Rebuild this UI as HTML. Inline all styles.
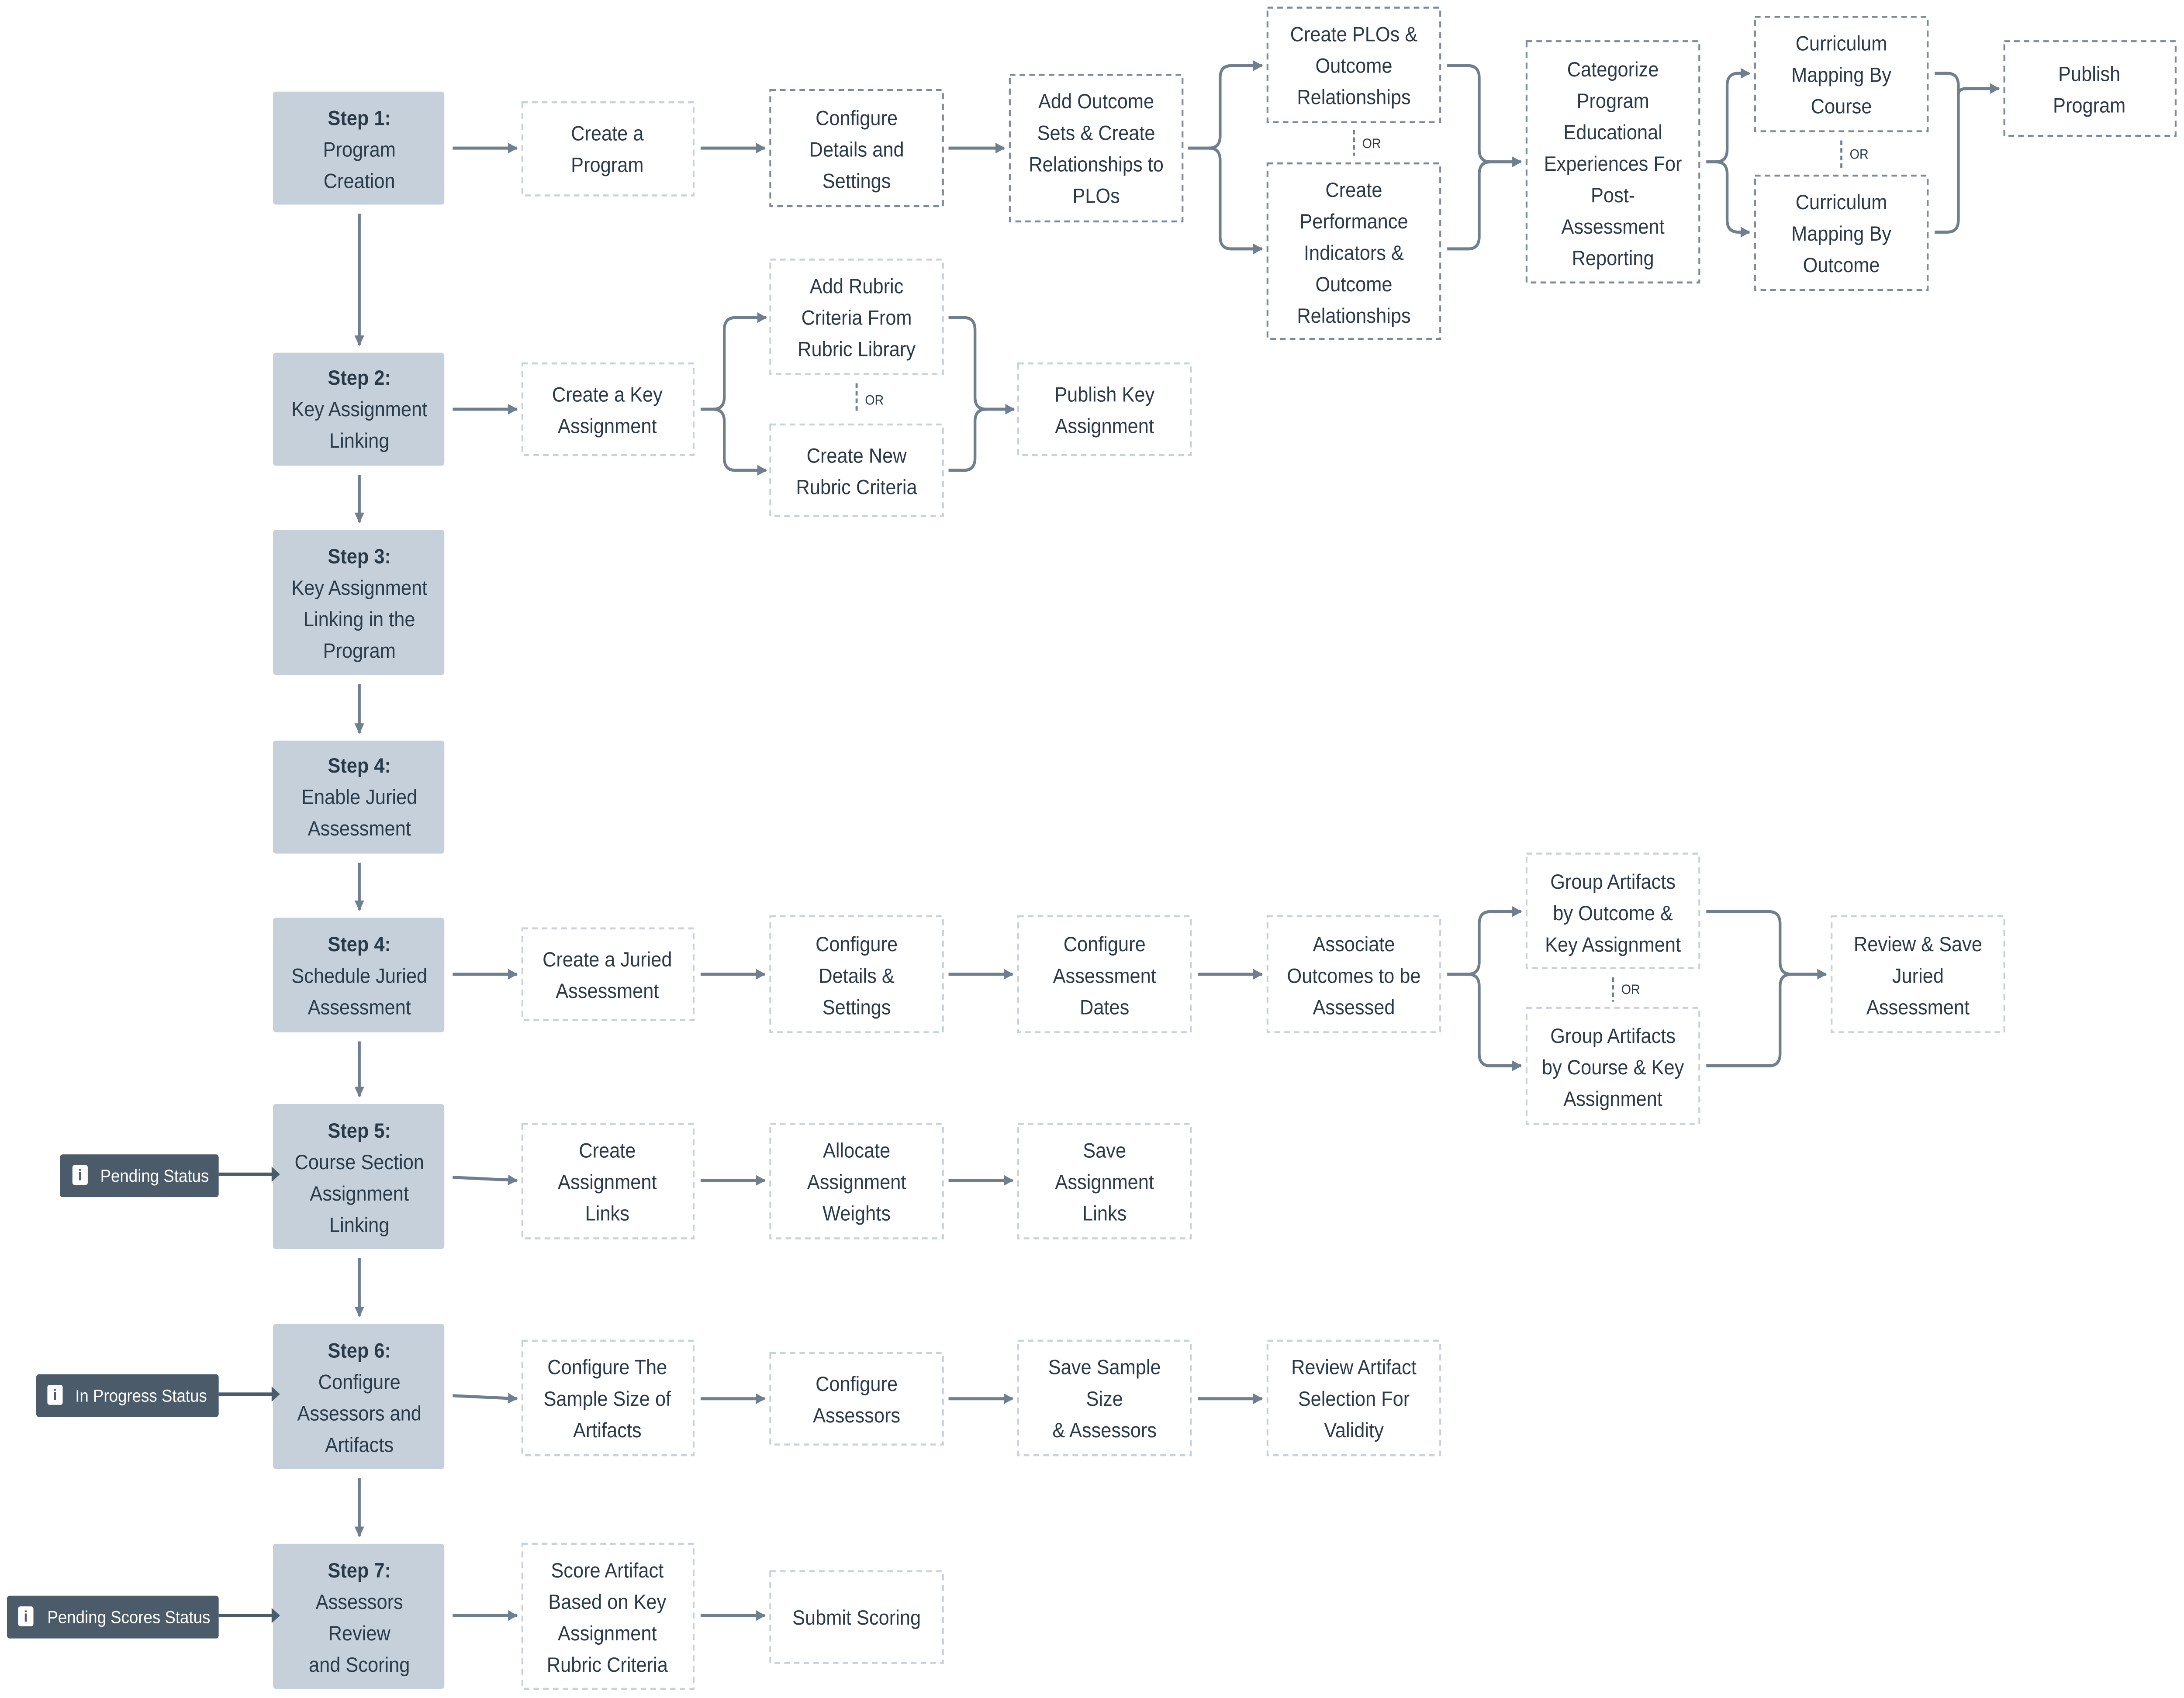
<!DOCTYPE html>
<html><head><meta charset="utf-8"><style>
html,body{margin:0;padding:0;background:#fff;width:100%;height:100%;overflow:hidden}
svg{display:block;position:fixed;left:0;top:0;width:100vw;height:100vh}
text{font-family:"Liberation Sans",sans-serif;font-size:13.6px;fill:#2b3a48;text-anchor:middle}
.b{font-weight:bold}
.st{fill:#c5d0da}
.lt{fill:#fff;stroke:#c9d1d9;stroke-width:1.3;stroke-dasharray:4 3}
.dk{fill:#fff;stroke:#7d8b98;stroke-width:1.3;stroke-dasharray:4 3}
.c{fill:none;stroke:#6f7f8e;stroke-width:2}
.s{fill:#4b5b6a}
.sw{fill:#fff;font-size:11.5px;text-anchor:start}
.or{font-size:9px;text-anchor:start}
</style></head><body>
<svg viewBox="0 0 1568 1112" preserveAspectRatio="none" xmlns="http://www.w3.org/2000/svg">
<defs><marker id="a" viewBox="0 0 10 10" refX="9" refY="5" markerWidth="7" markerHeight="7" markerUnits="userSpaceOnUse" orient="auto"><path d="M0 0L10 5L0 10z" fill="#6f7f8e"/></marker></defs>

<rect class="st" x="196" y="60" width="123" height="74" rx="2"/>
<text x="258" y="82"><tspan class="b">Step 1:</tspan><tspan x="258" dy="20.6">Program</tspan><tspan x="258" dy="20.6">Creation</tspan></text>
<rect class="st" x="196" y="231" width="123" height="74" rx="2"/>
<text x="258" y="252"><tspan class="b">Step 2:</tspan><tspan x="258" dy="20.6">Key Assignment</tspan><tspan x="258" dy="20.6">Linking</tspan></text>
<rect class="st" x="196" y="347" width="123" height="95" rx="2"/>
<text x="258" y="369"><tspan class="b">Step 3:</tspan><tspan x="258" dy="20.6">Key Assignment</tspan><tspan x="258" dy="20.6">Linking in the</tspan><tspan x="258" dy="20.6">Program</tspan></text>
<rect class="st" x="196" y="485" width="123" height="74" rx="2"/>
<text x="258" y="506"><tspan class="b">Step 4:</tspan><tspan x="258" dy="20.6">Enable Juried</tspan><tspan x="258" dy="20.6">Assessment</tspan></text>
<rect class="st" x="196" y="601" width="123" height="75" rx="2"/>
<text x="258" y="623"><tspan class="b">Step 4:</tspan><tspan x="258" dy="20.6">Schedule Juried</tspan><tspan x="258" dy="20.6">Assessment</tspan></text>
<rect class="st" x="196" y="723" width="123" height="95" rx="2"/>
<text x="258" y="745"><tspan class="b">Step 5:</tspan><tspan x="258" dy="20.6">Course Section</tspan><tspan x="258" dy="20.6">Assignment</tspan><tspan x="258" dy="20.6">Linking</tspan></text>
<rect class="st" x="196" y="867" width="123" height="95" rx="2"/>
<text x="258" y="889"><tspan class="b">Step 6:</tspan><tspan x="258" dy="20.6">Configure</tspan><tspan x="258" dy="20.6">Assessors and</tspan><tspan x="258" dy="20.6">Artifacts</tspan></text>
<rect class="st" x="196" y="1011" width="123" height="95" rx="2"/>
<text x="258" y="1033"><tspan class="b">Step 7:</tspan><tspan x="258" dy="20.6">Assessors</tspan><tspan x="258" dy="20.6">Review</tspan><tspan x="258" dy="20.6">and Scoring</tspan></text>

<path class="c" marker-end="url(#a)" d="M258 140V226"/>
<path class="c" marker-end="url(#a)" d="M258 311V342"/>
<path class="c" marker-end="url(#a)" d="M258 448V480"/>
<path class="c" marker-end="url(#a)" d="M258 565V596"/>
<path class="c" marker-end="url(#a)" d="M258 682V718"/>
<path class="c" marker-end="url(#a)" d="M258 824V862"/>
<path class="c" marker-end="url(#a)" d="M258 968V1006"/>

<rect class="s" x="43" y="756" width="114" height="28" rx="2"/>
<rect x="52" y="763" width="11" height="13" rx="1.5" fill="#fff"/><text x="57.5" y="773" style="font-size:10px;font-weight:bold;fill:#4b5b6a">i</text>
<text class="sw" x="72" y="774">Pending Status</text>
<rect class="s" x="26" y="900" width="131" height="28" rx="2"/>
<rect x="34" y="907" width="11" height="13" rx="1.5" fill="#fff"/><text x="39.5" y="917" style="font-size:10px;font-weight:bold;fill:#4b5b6a">i</text>
<text class="sw" x="54" y="918">In Progress Status</text>
<rect class="s" x="5" y="1045" width="152" height="28" rx="2"/>
<rect x="13" y="1052" width="11" height="13" rx="1.5" fill="#fff"/><text x="18.5" y="1062" style="font-size:10px;font-weight:bold;fill:#4b5b6a">i</text>
<text class="sw" x="34" y="1063">Pending Scores Status</text>
<path d="M157 769H197M157 913H197M157 1058H197" stroke="#4b5b6a" stroke-width="2.2" fill="none"/>
<path d="M195 764L201 769L195 774zM195 908L201 913L195 918zM195 1053L201 1058L195 1063z" fill="#4b5b6a"/>

<rect class="lt" x="375" y="67" width="123" height="61"/>
<text x="436" y="92">Create a<tspan x="436" dy="20.6">Program</tspan></text>
<rect class="dk" x="553" y="59" width="124" height="76"/>
<text x="615" y="82">Configure<tspan x="615" dy="20.6">Details and</tspan><tspan x="615" dy="20.6">Settings</tspan></text>
<rect class="dk" x="725" y="49" width="124" height="96"/>
<text x="787" y="71">Add Outcome<tspan x="787" dy="20.6">Sets &amp; Create</tspan><tspan x="787" dy="20.6">Relationships to</tspan><tspan x="787" dy="20.6">PLOs</tspan></text>
<rect class="dk" x="910" y="5" width="124" height="75"/>
<text x="972" y="27">Create PLOs &amp;<tspan x="972" dy="20.6">Outcome</tspan><tspan x="972" dy="20.6">Relationships</tspan></text>
<rect class="dk" x="910" y="107" width="124" height="115"/>
<text x="972" y="129">Create<tspan x="972" dy="20.6">Performance</tspan><tspan x="972" dy="20.6">Indicators &amp;</tspan><tspan x="972" dy="20.6">Outcome</tspan><tspan x="972" dy="20.6">Relationships</tspan></text>
<rect class="dk" x="1096" y="27" width="124" height="158"/>
<text x="1158" y="50">Categorize<tspan x="1158" dy="20.6">Program</tspan><tspan x="1158" dy="20.6">Educational</tspan><tspan x="1158" dy="20.6">Experiences For</tspan><tspan x="1158" dy="20.6">Post-</tspan><tspan x="1158" dy="20.6">Assessment</tspan><tspan x="1158" dy="20.6">Reporting</tspan></text>
<rect class="dk" x="1260" y="11" width="124" height="75"/>
<text x="1322" y="33">Curriculum<tspan x="1322" dy="20.6">Mapping By</tspan><tspan x="1322" dy="20.6">Course</tspan></text>
<rect class="dk" x="1260" y="115" width="124" height="75"/>
<text x="1322" y="137">Curriculum<tspan x="1322" dy="20.6">Mapping By</tspan><tspan x="1322" dy="20.6">Outcome</tspan></text>
<rect class="dk" x="1439" y="27" width="123" height="62"/>
<text x="1500" y="53">Publish<tspan x="1500" dy="20.6">Program</tspan></text>

<path class="c" marker-end="url(#a)" d="M325 97H371"/>
<path class="c" marker-end="url(#a)" d="M503 97H549"/>
<path class="c" marker-end="url(#a)" d="M681 97H721"/>
<path class="c" marker-end="url(#a)" d="M853 97H868Q876 97 876 89V51Q876 43 884 43H906"/>
<path class="c" marker-end="url(#a)" d="M868 97Q876 97 876 105V155Q876 163 884 163H906"/>
<path class="c" marker-end="url(#a)" d="M1039 43H1054Q1062 43 1062 51V98Q1062 106 1070 106H1092"/>
<path class="c" d="M1039 163H1054Q1062 163 1062 155V114Q1062 106 1070 106"/>
<path class="c" marker-end="url(#a)" d="M1225 106H1232Q1240 106 1240 98V56Q1240 48 1248 48H1256"/>
<path class="c" marker-end="url(#a)" d="M1232 106Q1240 106 1240 114V144Q1240 152 1248 152H1256"/>
<path class="c" d="M1389 48H1398Q1406 48 1406 56V144Q1406 152 1398 152H1389"/>
<path class="c" marker-end="url(#a)" d="M1406 62Q1406 58 1412 58H1435"/>
<path d="M972 85V102" stroke="#6f7f8e" stroke-width="1.5" stroke-dasharray="3 2"/><text class="or" x="978" y="97">OR</text>
<path d="M1322 92V110" stroke="#6f7f8e" stroke-width="1.5" stroke-dasharray="3 2"/><text class="or" x="1328" y="104">OR</text>

<rect class="lt" x="375" y="238" width="123" height="60"/>
<text x="436" y="263">Create a Key<tspan x="436" dy="20.6">Assignment</tspan></text>
<rect class="lt" x="553" y="170" width="124" height="75"/>
<text x="615" y="192">Add Rubric<tspan x="615" dy="20.6">Criteria From</tspan><tspan x="615" dy="20.6">Rubric Library</tspan></text>
<rect class="lt" x="553" y="278" width="124" height="60"/>
<text x="615" y="303">Create New<tspan x="615" dy="20.6">Rubric Criteria</tspan></text>
<rect class="lt" x="731" y="238" width="124" height="60"/>
<text x="793" y="263">Publish Key<tspan x="793" dy="20.6">Assignment</tspan></text>
<path class="c" marker-end="url(#a)" d="M325 268H371"/>
<path class="c" marker-end="url(#a)" d="M503 268H512Q520 268 520 260V216Q520 208 528 208H550"/>
<path class="c" marker-end="url(#a)" d="M512 268Q520 268 520 276V300Q520 308 528 308H550"/>
<path class="c" marker-end="url(#a)" d="M681 208H692Q700 208 700 216V260Q700 268 708 268H728"/>
<path class="c" d="M681 308H692Q700 308 700 300V276Q700 268 708 268"/>
<path d="M615 251V270" stroke="#6f7f8e" stroke-width="1.5" stroke-dasharray="3 2"/><text class="or" x="621" y="265">OR</text>

<rect class="lt" x="375" y="608" width="123" height="60"/>
<text x="436" y="633">Create a Juried<tspan x="436" dy="20.6">Assessment</tspan></text>
<rect class="lt" x="553" y="600" width="124" height="76"/>
<text x="615" y="623">Configure<tspan x="615" dy="20.6">Details &amp;</tspan><tspan x="615" dy="20.6">Settings</tspan></text>
<rect class="lt" x="731" y="600" width="124" height="76"/>
<text x="793" y="623">Configure<tspan x="793" dy="20.6">Assessment</tspan><tspan x="793" dy="20.6">Dates</tspan></text>
<rect class="lt" x="910" y="600" width="124" height="76"/>
<text x="972" y="623">Associate<tspan x="972" dy="20.6">Outcomes to be</tspan><tspan x="972" dy="20.6">Assessed</tspan></text>
<rect class="lt" x="1096" y="559" width="124" height="75"/>
<text x="1158" y="582">Group Artifacts<tspan x="1158" dy="20.6">by Outcome &amp;</tspan><tspan x="1158" dy="20.6">Key Assignment</tspan></text>
<rect class="lt" x="1096" y="660" width="124" height="76"/>
<text x="1158" y="683">Group Artifacts<tspan x="1158" dy="20.6">by Course &amp; Key</tspan><tspan x="1158" dy="20.6">Assignment</tspan></text>
<rect class="lt" x="1315" y="600" width="124" height="76"/>
<text x="1377" y="623">Review &amp; Save<tspan x="1377" dy="20.6">Juried</tspan><tspan x="1377" dy="20.6">Assessment</tspan></text>
<path class="c" marker-end="url(#a)" d="M325 638H371"/>
<path class="c" marker-end="url(#a)" d="M503 638H549"/>
<path class="c" marker-end="url(#a)" d="M681 638H727"/>
<path class="c" marker-end="url(#a)" d="M860 638H906"/>
<path class="c" marker-end="url(#a)" d="M1039 638H1054Q1062 638 1062 630V605Q1062 597 1070 597H1092"/>
<path class="c" marker-end="url(#a)" d="M1054 638Q1062 638 1062 646V690Q1062 698 1070 698H1092"/>
<path class="c" marker-end="url(#a)" d="M1225 597H1270Q1278 597 1278 605V630Q1278 638 1286 638H1311"/>
<path class="c" d="M1225 698H1270Q1278 698 1278 690V646Q1278 638 1286 638"/>
<path d="M1158 640V656" stroke="#6f7f8e" stroke-width="1.5" stroke-dasharray="3 2"/><text class="or" x="1164" y="651">OR</text>

<rect class="lt" x="375" y="736" width="123" height="75"/>
<text x="436" y="758">Create<tspan x="436" dy="20.6">Assignment</tspan><tspan x="436" dy="20.6">Links</tspan></text>
<rect class="lt" x="553" y="736" width="124" height="75"/>
<text x="615" y="758">Allocate<tspan x="615" dy="20.6">Assignment</tspan><tspan x="615" dy="20.6">Weights</tspan></text>
<rect class="lt" x="731" y="736" width="124" height="75"/>
<text x="793" y="758">Save<tspan x="793" dy="20.6">Assignment</tspan><tspan x="793" dy="20.6">Links</tspan></text>
<path class="c" marker-end="url(#a)" d="M325 771L371 773"/>
<path class="c" marker-end="url(#a)" d="M503 773H549"/>
<path class="c" marker-end="url(#a)" d="M681 773H727"/>

<rect class="lt" x="375" y="878" width="123" height="75"/>
<text x="436" y="900">Configure The<tspan x="436" dy="20.6">Sample Size of</tspan><tspan x="436" dy="20.6">Artifacts</tspan></text>
<rect class="lt" x="553" y="886" width="124" height="60"/>
<text x="615" y="911">Configure<tspan x="615" dy="20.6">Assessors</tspan></text>
<rect class="lt" x="731" y="878" width="124" height="75"/>
<text x="793" y="900">Save Sample<tspan x="793" dy="20.6">Size</tspan><tspan x="793" dy="20.6">&amp; Assessors</tspan></text>
<rect class="lt" x="910" y="878" width="124" height="75"/>
<text x="972" y="900">Review Artifact<tspan x="972" dy="20.6">Selection For</tspan><tspan x="972" dy="20.6">Validity</tspan></text>
<path class="c" marker-end="url(#a)" d="M325 914L371 916"/>
<path class="c" marker-end="url(#a)" d="M503 916H549"/>
<path class="c" marker-end="url(#a)" d="M681 916H727"/>
<path class="c" marker-end="url(#a)" d="M860 916H906"/>

<rect class="lt" x="375" y="1011" width="123" height="95"/>
<text x="436" y="1033">Score Artifact<tspan x="436" dy="20.6">Based on Key</tspan><tspan x="436" dy="20.6">Assignment</tspan><tspan x="436" dy="20.6">Rubric Criteria</tspan></text>
<rect class="lt" x="553" y="1029" width="124" height="60"/>
<text x="615" y="1064">Submit Scoring</text>
<path class="c" marker-end="url(#a)" d="M325 1058H371"/>
<path class="c" marker-end="url(#a)" d="M503 1058H549"/>
</svg>
</body></html>
